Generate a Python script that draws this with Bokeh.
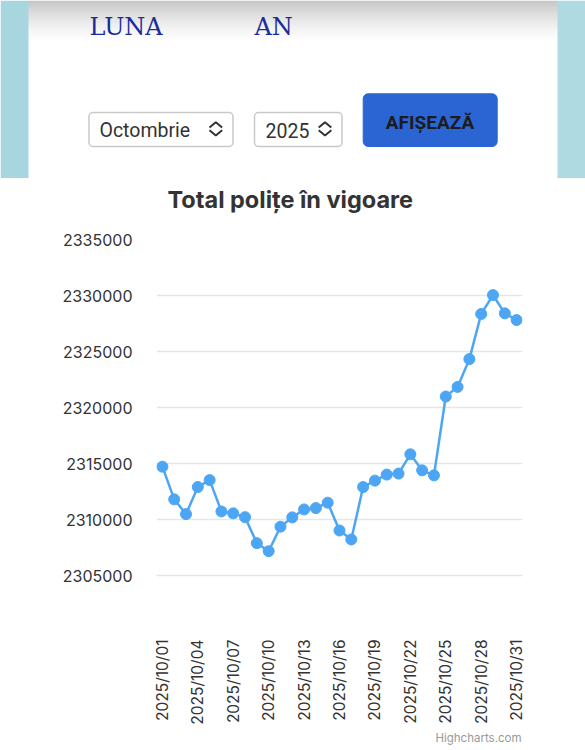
import math
from bokeh.plotting import figure
from bokeh.models import Range1d, FixedTicker, BoxAnnotation, Title, BasicTickFormatter
from bokeh.layouts import column
from bokeh.embed import file_html
from bokeh.resources import INLINE
from bokeh.core.properties import value

# ---------------- data ----------------
days = list(range(1, 32))
dates = [f"2025/10/{d:02d}" for d in days]
totals = [2314720, 2311800, 2310480, 2312900, 2313520, 2310720, 2310550, 2310210,
          2307890, 2307170, 2309360, 2310190, 2310900, 2311020, 2311500, 2309020,
          2308220, 2312900, 2313470, 2314010, 2314100, 2315820, 2314390, 2313940,
          2320980, 2321840, 2324320, 2328350, 2330040, 2328410, 2327810]
y_ticks = [2305000, 2310000, 2315000, 2320000, 2325000, 2330000, 2335000]
x_tick_days = [1, 4, 7, 10, 13, 16, 19, 22, 25, 28, 31]
title_text = "Total polițe în vigoare"
luna_label = "LUNA"
an_label = "AN"
month_label = "Octombrie"
year_label = "2025"
button_label = "AFIȘEAZĂ"
credit_text = "Highcharts.com"

# ---------------- top page mock (form) ----------------
ui = figure(width=585, height=178, x_range=Range1d(0, 585), y_range=Range1d(178, 0),
            output_backend="svg", toolbar_location=None, min_border=0,
            x_axis_location=None, y_axis_location=None)
ui.frame_align = False
ui.grid.grid_line_color = None
ui.outline_line_color = None
ui.background_fill_color = "white"
ui.border_fill_color = "white"

# side background strips
ui.quad(left=[0, 557], right=[28, 585], top=[0, 0], bottom=[178, 178],
        fill_color=["#a7d6df", "#b0dae2"], line_color=None)
# card top shadow
n = 44
ui.quad(left=[28] * n, right=[557] * n, top=[i for i in range(n)],
        bottom=[1 + i for i in range(n)], fill_color="black",
        fill_alpha=[0.24 * (1 - i / n) ** 1.6 for i in range(n)], line_color=None)

for l, r in [(88.5, 232.5), (254, 341.5)]:
    ui.add_layout(BoxAnnotation(left=l, right=r, top=112, bottom=146,
                                fill_color="white", fill_alpha=1.0,
                                line_color="#c9c9c9", line_alpha=1.0, line_width=1.5,
                                border_radius=4, level="underlay"))
ui.add_layout(BoxAnnotation(left=362.7, right=496.7, top=93.3, bottom=146,
                            fill_color="#2b64d3", fill_alpha=1.0,
                            line_color="#2b64d3", line_alpha=1.0,
                            border_radius=5, level="underlay"))

ui.text(x=[89, 254], y=[26, 26], text=[luna_label, an_label],
        text_font=value("DejaVu Serif"), text_font_size="24px",
        text_color="#1c2c9c", text_baseline="alphabetic", text_align="left")

ui.text(x=[99, 265], y=[130, 130], text=[month_label, year_label],
        text_font=value("Roboto"), text_font_size="19.5px",
        text_color="#333333", text_baseline="alphabetic", text_align="left")
ui.text(x=[429.5], y=[121.5], text=[button_label],
        text_font=value("Roboto"), text_font_size="19px", text_font_style="bold",
        text_color="#1c1c1c", text_baseline="alphabetic", text_align="center")

chev_xs, chev_ys = [], []
for cx in (215.3, 324.5):
    chev_xs += [[cx - 6.3, cx, cx + 6.3], [cx - 6.3, cx, cx + 6.3]]
    chev_ys += [[127, 121.7, 127], [129.8, 135, 129.8]]
ui.multi_line(xs=chev_xs, ys=chev_ys, line_color="#333333", line_width=2)

# ---------------- chart ----------------
p = figure(frame_width=366, frame_height=336,
           x_range=Range1d(0.5, 31.5), y_range=Range1d(2305000, 2335000),
           output_backend="svg", toolbar_location=None,
           min_border_left=156, min_border_right=63, min_border_top=30,
           min_border_bottom=174)
p.frame_align = False
p.outline_line_color = None
p.background_fill_color = "white"
p.border_fill_color = "white"

p.title.text = title_text
p.title.text_font = "Inter"
p.title.text_font_size = "23.5px"
p.title.text_font_style = "bold"
p.title.text_color = "#333333"
p.title.align = "left"
p.title.offset = 11
p.title.standoff = 9

# spacer between title and plot area
p.add_layout(Title(text=" ", text_font_size="1px", standoff=18), "above")

p.line(days, totals, line_color="#4da6f4", line_width=2.5)
p.scatter(days, totals, size=11, fill_color="#4da6f4", line_color="#4da6f4")

p.xgrid.visible = False
p.ygrid.ticker = FixedTicker(ticks=y_ticks)
p.ygrid.grid_line_color = "#e6e6e6"
p.ygrid.grid_line_width = 1.5

p.yaxis.ticker = FixedTicker(ticks=y_ticks)
p.yaxis.formatter = BasicTickFormatter(use_scientific=False)
p.yaxis.axis_line_color = None
p.yaxis.major_tick_line_color = None
p.yaxis.minor_tick_line_color = None
p.yaxis.major_label_standoff = 18
p.yaxis.major_label_text_font = "Inter"
p.yaxis.major_label_text_font_size = "16px"
p.yaxis.major_label_text_color = "#333333"

p.xaxis.ticker = FixedTicker(ticks=x_tick_days)
p.xaxis.major_label_overrides = {d: dates[d - 1] for d in x_tick_days}
p.xaxis.major_label_orientation = math.pi / 2
p.xaxis.axis_line_color = "#e6e6e6"
p.xaxis.axis_line_width = 1.5
p.xaxis.major_tick_line_color = None
p.xaxis.minor_tick_line_color = None
p.xaxis.major_label_standoff = 58
p.xaxis.major_label_text_font = "Inter"
p.xaxis.major_label_text_font_size = "15.5px"
p.xaxis.major_label_text_color = "#333333"

p.add_layout(Title(text=credit_text, align="right", text_font="Inter",
                   text_font_size="11.5px", text_font_style="normal",
                   text_color="#999999", standoff=2, offset=1), "below")

layout = column(ui, p, spacing=0)
open("out.html", "w").write(file_html(layout, INLINE))
